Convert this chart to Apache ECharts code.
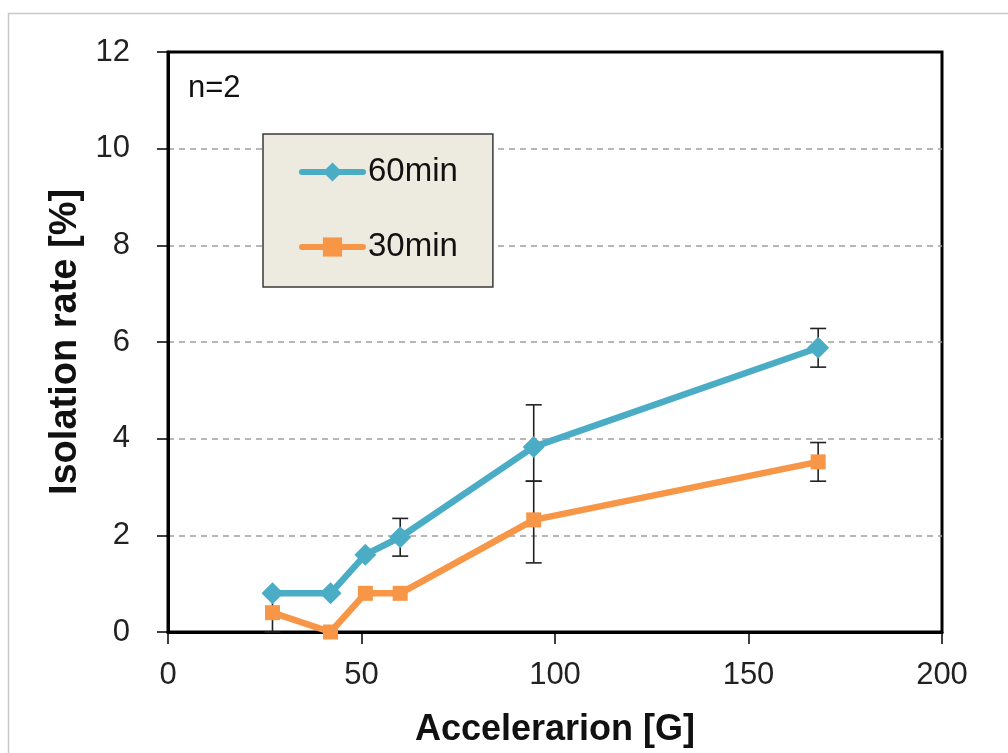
<!DOCTYPE html>
<html>
<head>
<meta charset="utf-8">
<script src="https://cdn.jsdelivr.net/npm/echarts@6/dist/echarts.min.js"></script>
<style>
  html, body { margin: 0; padding: 0; background: #fff; }
  #chart { width: 1008px; height: 753px; }
</style>
</head>
<body>
<div id="chart"></div>
<script>
// Acceleration (G) at which each run was measured
const accel = [27, 42, 51, 60, 94.5, 168];
// Isolation rate (%) per centrifugation time
const rate60 = [0.8, 0.8, 1.6, 1.96, 3.83, 5.88];
const rate30 = [0.4, 0, 0.8, 0.8, 2.32, 3.52];
// Error bar extents (above / below the mean)
const err60Up = [0, 0, 0, 0.39, 0.87, 0.4];
const err60Down = [0, 0, 0, 0.39, 0.71, 0.4];
const err30Up = [0.4, 0, 0, 0, 0.8, 0.4];
const err30Down = [0.4, 0, 0, 0, 0.89, 0.4];
// Axis settings
const xMin = 0, xMax = 200, xStep = 50;
const yMin = 0, yMax = 12, yStep = 2;
const seriesNames = ['60min', '30min'];

const FONT = "'Liberation Sans', Arial, sans-serif";
const C60 = '#4BACC6';
const C30 = '#F79646';

function pairs(xs, ys) { return xs.map((x, i) => [x, ys[i]]); }
function errData(xs, ys, up, down) {
  const out = [];
  xs.forEach((x, i) => {
    if (up[i] > 0 || down[i] > 0) out.push([x, ys[i] - down[i], ys[i] + up[i]]);
  });
  return out;
}

function renderErr(params, api) {
  const x = api.value(0);
  const lo = api.coord([x, api.value(1)]);
  const hi = api.coord([x, api.value(2)]);
  const half = 8;
  const style = { stroke: '#222', lineWidth: 1.6 };
  return {
    type: 'group',
    children: [
      { type: 'line', shape: { x1: lo[0], y1: lo[1], x2: hi[0], y2: hi[1] }, style },
      { type: 'line', shape: { x1: hi[0] - half, y1: hi[1], x2: hi[0] + half, y2: hi[1] }, style },
      { type: 'line', shape: { x1: lo[0] - half, y1: lo[1], x2: lo[0] + half, y2: lo[1] }, style }
    ]
  };
}

const chart = echarts.init(document.getElementById('chart'), null, { renderer: 'canvas' });
chart.setOption({
  animation: false,
  backgroundColor: '#fff',
  grid: {
    left: 168, right: 66, top: 52, bottom: 120,
    show: true, borderColor: '#000', borderWidth: 3, backgroundColor: 'transparent'
  },
  legend: {
    data: seriesNames,
    orient: 'vertical',
    left: 263, top: 134,
    backgroundColor: '#EDEAE0',
    borderColor: '#3a3a3a',
    borderWidth: 1.5,
    borderRadius: 0,
    padding: [18, 35, 20, 36],
    itemWidth: 61,
    itemHeight: 24,
    itemGap: 35,
    lineStyle: { width: 6, cap: 'round' },
    textStyle: { fontFamily: FONT, fontSize: 33, color: '#111', lineHeight: 40 }
  },
  xAxis: {
    type: 'value',
    min: xMin, max: xMax, interval: xStep,
    name: 'Accelerarion [G]',
    nameLocation: 'middle',
    nameGap: 80,
    nameTextStyle: { fontFamily: FONT, fontSize: 36, fontWeight: 'bold', color: '#111' },
    axisLine: { show: true, onZero: false, lineStyle: { color: '#000', width: 3 } },
    axisTick: { show: true, inside: false, length: 12, lineStyle: { color: '#000', width: 1.5 } },
    axisLabel: { fontFamily: FONT, fontSize: 31, color: '#222', margin: 28 },
    splitLine: { show: false }
  },
  yAxis: {
    type: 'value',
    min: yMin, max: yMax, interval: yStep,
    name: 'Isolation rate [%]',
    nameLocation: 'middle',
    nameGap: 61,
    nameRotate: 90,
    nameTextStyle: { fontFamily: FONT, fontSize: 38, fontWeight: 'bold', color: '#111' },
    axisLine: { show: true, lineStyle: { color: '#000', width: 3 } },
    axisTick: { show: true, inside: false, length: 11, lineStyle: { color: '#000', width: 1.5 } },
    axisLabel: { fontFamily: FONT, fontSize: 31, color: '#222', margin: 38 },
    splitLine: {
      show: true, showMinLine: false, showMaxLine: false,
      lineStyle: { color: '#a0a0a0', width: 1.5, type: [6, 5] }
    }
  },
  graphic: [
    {
      type: 'rect', silent: true, z: -10,
      shape: { x: 8.5, y: 13.5, width: 1200, height: 900 },
      style: { fill: 'none', stroke: '#c8c8c8', lineWidth: 1.5 }
    },
    {
      type: 'text', left: 188, top: 73,
      style: { text: 'n=2', fontFamily: FONT, fontSize: 31, fill: '#111' }
    }
  ],
  series: [
    {
      type: 'custom', name: 'err60', renderItem: renderErr, z: 1,
      data: errData(accel, rate60, err60Up, err60Down), silent: true
    },
    {
      type: 'custom', name: 'err30', renderItem: renderErr, z: 1,
      data: errData(accel, rate30, err30Up, err30Down), silent: true
    },
    {
      type: 'line', name: '60min', z: 4,
      data: pairs(accel, rate60),
      symbol: 'diamond', symbolSize: 22,
      itemStyle: { color: C60 },
      lineStyle: { color: C60, width: 6.5, cap: 'round', join: 'round' },
      emphasis: { disabled: true }
    },
    {
      type: 'line', name: '30min', z: 3,
      data: pairs(accel, rate30),
      symbol: 'rect', symbolSize: 15,
      itemStyle: { color: C30 },
      lineStyle: { color: C30, width: 6.5, cap: 'round', join: 'round' },
      emphasis: { disabled: true }
    }
  ]
});
</script>
</body>
</html>
